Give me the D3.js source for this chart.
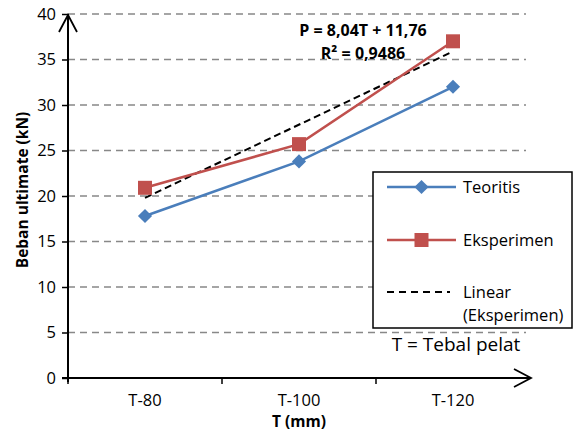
<!DOCTYPE html>
<html><head><meta charset="utf-8">
<script src="https://cdn.jsdelivr.net/npm/d3@7"></script>
<style>
body{margin:0;background:#fff;}
text{font-family:"Open Sans","Liberation Sans",sans-serif;}
</style></head>
<body><svg id="c" width="577" height="433"></svg>
<script>
const categories = ["T-80","T-100","T-120"];
const teoritis = [17.8, 23.8, 32.0];
const eksperimen = [20.9, 25.7, 37.0];
const trendSlope = 8.04, trendIntercept = 11.76;
const yTicks = [0,5,10,15,20,25,30,35,40];
const legendLabels = ["Teoritis","Eksperimen","Linear","(Eksperimen)"];

const svg = d3.select("#c");
const L = 68, R = 530, T = 14, B = 378;
const x = d3.scaleBand().domain(categories).range([L, R]);
const xc = c => x(c) + x.bandwidth()/2;
const xi = i => xc(categories[0]) + (i-1) * x.step();
const y = d3.scaleLinear().domain([0,40]).range([B, T]);

// gridlines
svg.append("g").selectAll("line").data(yTicks.filter(d=>d>0)).join("line")
  .attr("x1", L).attr("x2", 526).attr("y1", d=>y(d)).attr("y2", d=>y(d))
  .attr("stroke","#888").attr("stroke-width",1.5).attr("stroke-dasharray","7,5");

// y axis
const ya = svg.append("g").attr("transform",`translate(${L},0)`)
  .call(d3.axisLeft(y).tickValues(yTicks).tickSize(6).tickPadding(6));
ya.select(".domain").remove();
ya.selectAll(".tick line").attr("stroke","#000").attr("stroke-width",1.5);
ya.selectAll(".tick text").attr("font-size",16.5).attr("fill","#000")
  .style("font-family","'Open Sans',sans-serif");
svg.append("line").attr("x1",L).attr("x2",L).attr("y1",B+4).attr("y2",T)
  .attr("stroke","#000").attr("stroke-width",2);
svg.append("path").attr("d",`M${L-9},${T+18}L${L},${T+1}L${L+9},${T+18}`)
  .attr("fill","none").attr("stroke","#000").attr("stroke-width",1.8);

// x axis
const xa = svg.append("g").attr("transform",`translate(0,${B})`)
  .call(d3.axisBottom(x).tickSize(0).tickPadding(16));
xa.select(".domain").remove();
xa.selectAll(".tick text").attr("font-size",16.5).attr("fill","#000");
svg.append("g").selectAll("line").data([0,1,2]).join("line")
  .attr("x1",i=>L+i*x.step()).attr("x2",i=>L+i*x.step())
  .attr("y1",B).attr("y2",B+6).attr("stroke","#000").attr("stroke-width",1.5);
svg.append("line").attr("x1",L-6).attr("x2",R+1).attr("y1",B).attr("y2",B)
  .attr("stroke","#000").attr("stroke-width",2);
svg.append("path").attr("d",`M${R-16},${B-9}L${R+1},${B}L${R-16},${B+9}`)
  .attr("fill","none").attr("stroke","#000").attr("stroke-width",1.8);

// trendline
svg.append("line").attr("x1",xi(1)).attr("x2",xi(3))
  .attr("y1",y(trendSlope*1+trendIntercept)).attr("y2",y(trendSlope*3+trendIntercept))
  .attr("stroke","#000").attr("stroke-width",2).attr("stroke-dasharray","7,4");

const line = d3.line().x((d,i)=>xc(categories[i])).y(d=>y(d));
svg.append("path").datum(teoritis).attr("d",line).attr("fill","none")
  .attr("stroke","#4a7ebb").attr("stroke-width",2.5);
svg.append("path").datum(eksperimen).attr("d",line).attr("fill","none")
  .attr("stroke","#c0504d").attr("stroke-width",2.5);

svg.append("g").selectAll("path").data(teoritis).join("path")
  .attr("transform",(d,i)=>`translate(${xc(categories[i])},${y(d)}) rotate(45)`)
  .attr("d",d3.symbol().type(d3.symbolSquare).size(100)).attr("fill","#4a7ebb");
svg.append("g").selectAll("rect").data(eksperimen).join("rect")
  .attr("x",(d,i)=>xc(categories[i])-7).attr("y",d=>y(d)-7)
  .attr("width",14).attr("height",14).attr("fill","#c0504d");

// equation
svg.append("text").attr("x",363).attr("y",36).attr("text-anchor","middle")
  .attr("font-size",16).attr("font-weight","bold").text("P = 8,04T + 11,76");
svg.append("text").attr("x",363).attr("y",59).attr("text-anchor","middle")
  .attr("font-size",16).attr("font-weight","bold").text("R² = 0,9486");

// legend
svg.append("rect").attr("x",373).attr("y",172).attr("width",199).attr("height",156)
  .attr("fill","#fff").attr("stroke","#000").attr("stroke-width",1.5);
const lx1 = 387, lx2 = 456, tx = 463;
svg.append("line").attr("x1",lx1).attr("x2",lx2).attr("y1",187).attr("y2",187)
  .attr("stroke","#4a7ebb").attr("stroke-width",2.5);
svg.append("path").attr("transform",`translate(${(lx1+lx2)/2},187) rotate(45)`)
  .attr("d",d3.symbol().type(d3.symbolSquare).size(100)).attr("fill","#4a7ebb");
svg.append("line").attr("x1",lx1).attr("x2",lx2).attr("y1",240).attr("y2",240)
  .attr("stroke","#c0504d").attr("stroke-width",2.5);
svg.append("rect").attr("x",(lx1+lx2)/2-7).attr("y",233).attr("width",14).attr("height",14)
  .attr("fill","#c0504d");
svg.append("line").attr("x1",lx1).attr("x2",lx2-6).attr("y1",292).attr("y2",292)
  .attr("stroke","#000").attr("stroke-width",2).attr("stroke-dasharray","7,5");
const ly = [187,240,292,315];
svg.append("g").selectAll("text").data(legendLabels).join("text")
  .attr("x",tx).attr("y",(d,i)=>ly[i]).attr("dy","0.35em")
  .attr("font-size",16.5).text(d=>d);

svg.append("text").attr("x",456).attr("y",351).attr("text-anchor","middle")
  .attr("font-size",19).text("T = Tebal pelat");

// axis titles
svg.append("text").attr("x",299).attr("y",427).attr("text-anchor","middle")
  .attr("font-size",15.5).attr("font-weight","bold").text("T (mm)");
svg.append("text").attr("transform","translate(28,190) rotate(-90)")
  .attr("text-anchor","middle").attr("font-size",15.5).attr("font-weight","bold")
  .text("Beban ultimate (kN)");
</script></body></html>
